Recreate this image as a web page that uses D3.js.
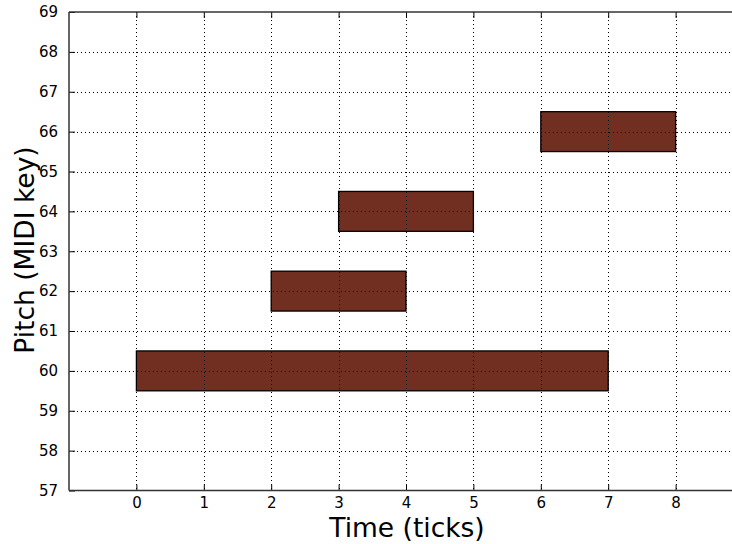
<!DOCTYPE html>
<html><head><meta charset="utf-8">
<script src="https://cdn.jsdelivr.net/npm/d3@7"></script>
<style>body{margin:0;background:#fff}svg{display:block}text{font-family:"DejaVu Sans",sans-serif}</style>
</head><body><svg id="c" width="732" height="544"></svg>
<script>
const pitches = [60, 62, 64, 66];
const starts = [0, 2, 3, 6];
const ends = [7, 4, 5, 8];
const xTicks = [0,1,2,3,4,5,6,7,8];
const yTicks = [57,58,59,60,61,62,63,64,65,66,67,68,69];

const svg = d3.select("#c");
const L = 69, T = 12, B = 490.5;
const x = d3.scaleLinear().domain([-1, 9]).range([L, L + 674]);
const y = d3.scaleLinear().domain([57, 69]).range([B, T]);
const R = 760;

const notes = pitches.map((p,i)=>({p, s:starts[i], e:ends[i]}));
svg.append("g").selectAll("rect").data(notes).join("rect")
  .attr("x", d=>x(d.s)).attr("y", d=>y(d.p+0.5))
  .attr("width", d=>x(d.e)-x(d.s)).attr("height", d=>y(d.p-0.5)-y(d.p+0.5))
  .attr("fill", "#702f20").attr("stroke", "#000").attr("stroke-width", 1.3);

const grid = svg.append("g").attr("stroke","#000").attr("stroke-width",1).attr("stroke-dasharray","1,3");
grid.selectAll(".gx").data(xTicks).join("line")
  .attr("x1", d=>Math.round(x(d))+0.5).attr("x2", d=>Math.round(x(d))+0.5).attr("y1", T).attr("y2", B);
grid.selectAll(".gy").data(yTicks.slice(1,-1)).join("line")
  .attr("y1", d=>Math.round(y(d))+0.5).attr("y2", d=>Math.round(y(d))+0.5).attr("x1", L).attr("x2", R);

const axBottom = d3.axisBottom(x).tickValues(xTicks).tickSize(-6).tickPadding(7).tickFormat(d3.format("d"));
const axTop = d3.axisTop(x).tickValues(xTicks).tickSize(-6).tickFormat("");
const axLeft = d3.axisLeft(y).tickValues(yTicks).tickSize(-6).tickPadding(11).tickFormat(d3.format("d"));
function style(g){
  g.select(".domain").remove();
  g.selectAll("line").attr("stroke","#000").attr("stroke-width",1);
  g.selectAll("text").attr("font-size",15).attr("fill","#000");
}
svg.append("g").attr("transform",`translate(0,${B})`).call(axBottom).call(style);
svg.append("g").attr("transform",`translate(0,${T})`).call(axTop).call(style);
svg.append("g").attr("transform",`translate(${L},0)`).call(axLeft).call(style);

const fr = svg.append("g").attr("stroke","#333").attr("stroke-width",1.5).attr("fill","none");
fr.append("line").attr("x1",L).attr("x2",L).attr("y1",T).attr("y2",B);
fr.append("line").attr("x1",L).attr("x2",R).attr("y1",T).attr("y2",T);
fr.append("line").attr("x1",L).attr("x2",R).attr("y1",B).attr("y2",B);

svg.append("text").attr("x", 407).attr("y", 537).attr("text-anchor","middle")
  .attr("font-size", 26.5).text("Time (ticks)");
svg.append("text").attr("transform", `translate(34,250) rotate(-90)`).attr("text-anchor","middle")
  .attr("font-size", 26.5).text("Pitch (MIDI key)");
</script></body></html>
